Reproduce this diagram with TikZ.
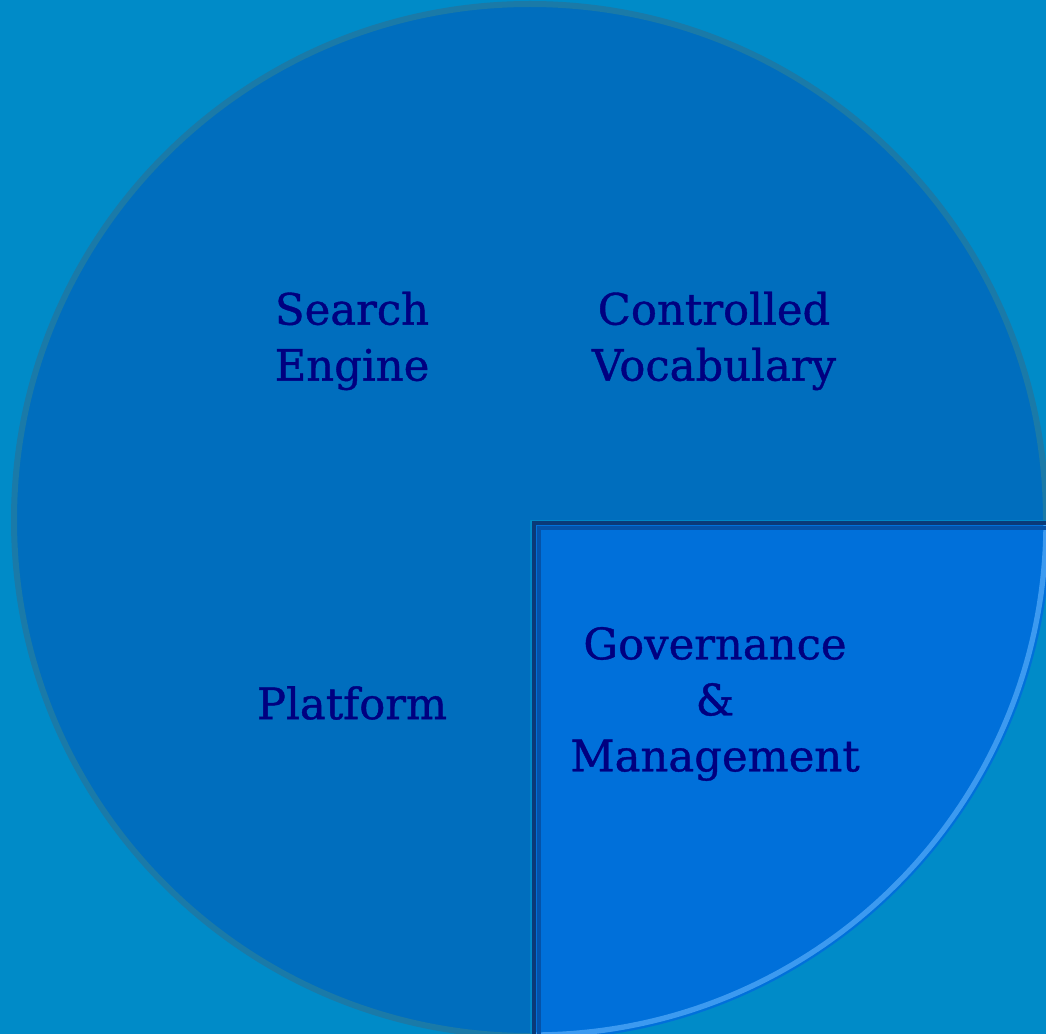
\documentclass[tikz,border=0pt]{standalone}
\usepackage{fontspec}
\setmainfont{DejaVu Serif}
\newfontfamily\lblfont[FakeBold=0.9]{DejaVu Serif}
\definecolor{bg}{HTML}{008BC8}
\definecolor{pie}{HTML}{006EBE}
\definecolor{wedgecol}{HTML}{0070DA}
\definecolor{navy}{HTML}{000080}
\definecolor{rim}{HTML}{1A7AA8}
\definecolor{darkedge}{HTML}{0A3A78}
\definecolor{midedge}{HTML}{0552A8}
\definecolor{hilite}{HTML}{3C9AF0}
\begin{document}
\begin{tikzpicture}[x=0.75pt,y=-0.75pt,
  lbl/.style={font=\lblfont\fontsize{32.5}{42}\selectfont, text=navy, align=center, inner sep=0pt}]
\fill[bg] (0,0) rectangle (1046,1034);
\useasboundingbox (0,0) rectangle (1046,1034);
% main pie (three quadrants); y axis points down, so angles run clockwise
\fill[pie] (530,520) -- (1048,520) arc[start angle=0,end angle=-270,radius=518] -- cycle;
\draw[rim, line width=4.5pt] (1046,520) arc[start angle=0,end angle=-270,radius=516];
% exploded wedge
\coordinate (c) at (533,522);
\fill[wedgecol] (c) -- (1051,522) arc[start angle=0,end angle=90,radius=518] -- cycle;
\draw[hilite, line width=4pt] (1046,522) arc[start angle=0,end angle=90,radius=513];
\draw[midedge, line width=3pt] (539,1040) -- (539,528) -- (1046,528);
\draw[darkedge, line width=2.5pt] (534,1040) -- (534,523) -- (1046,523);
% labels
\node[lbl] (se) at (352,341) {Search\\Engine};
\node[lbl] (cv) at (714,341) {Controlled\\Vocabulary};
\node[lbl] (pf) at (352,703) {Platform};
\node[lbl] (gm) at (715,704) {Governance\\\&\\Management};
\end{tikzpicture}
\end{document}
